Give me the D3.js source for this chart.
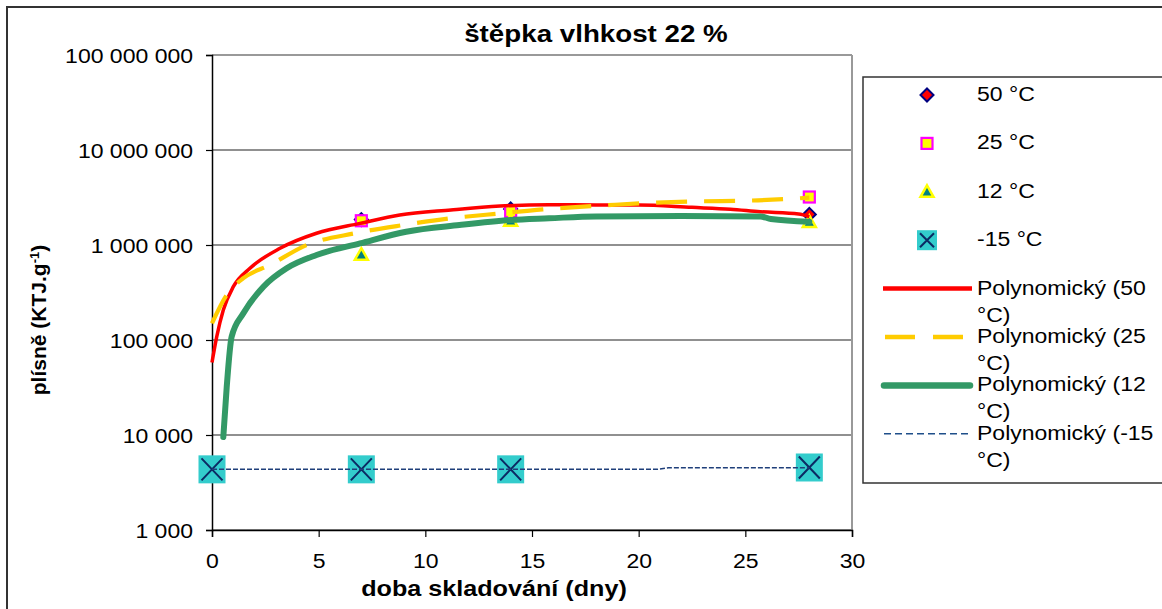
<!DOCTYPE html>
<html><head><meta charset="utf-8">
<script src="https://cdn.jsdelivr.net/npm/d3@7"></script>
<style>
body{margin:0;background:#fff;}
svg{display:block;}
text{font-family:"Liberation Sans",Arial,Helvetica,sans-serif;fill:#000;}
</style>
</head><body>
<svg id="c" width="1162" height="609"></svg>
<script>
// ---------- data ----------
const chartTitle = "štěpka vlhkost 22 %";
const xTitle = "doba skladování (dny)";
const yTitleMain = "plísně (KTJ.g";
const yTitleSup = "-1";
const yTitleEnd = ")";
const xTicks = [0, 5, 10, 15, 20, 25, 30];
const yTicks = [1e3, 1e4, 1e5, 1e6, 1e7, 1e8];

const seriesNames = ["50 °C", "25 °C", "12 °C", "-15 °C"];
const trendNames = ["Polynomický (50 °C)", "Polynomický (25 °C)", "Polynomický (12 °C)", "Polynomický (-15 °C)"];

// measured points
const days50 = [7, 14, 28];
const vals50 = [1850000, 2400000, 2100000];
const days25 = [7, 14, 28];
const vals25 = [1800000, 2250000, 3200000];
const days12 = [7, 14, 28];
const vals12 = [790000, 1800000, 1750000];
const daysM15 = [0, 7, 14, 28];
const valsM15 = [4350, 4350, 4350, 4550];

// polynomial trendlines
const trend50Days = [0, 0.22, 0.53, 1.0, 1.78, 3.19, 4.9, 6.94, 8.8, 11.2, 13.5, 15.8, 18, 20, 22.5, 24.3, 25.7, 27.5, 28];
const trend50Vals = [58000, 108000, 207000, 364000, 569000, 923000, 1330000, 1690000, 2070000, 2340000, 2570000, 2660000, 2640000, 2640000, 2490000, 2380000, 2240000, 2120000, 1990000];
const trend25Days = [0, 0.69, 1.47, 2.72, 4.44, 6.7, 8.95, 11.2, 13.5, 15.5, 18.5, 20.4, 22.8, 25.1, 27.5, 28];
const trend25Vals = [150000, 298000, 447000, 617000, 1000000, 1330000, 1620000, 1910000, 2150000, 2370000, 2620000, 2770000, 2880000, 2930000, 3100000, 3150000];
const trend12Days = [0.53, 0.69, 0.92, 1.47, 2.41, 3.5, 4.9, 6.94, 9.1, 11.6, 14, 15.8, 18, 22, 25.7, 26.2, 28];
const trend12Vals = [9500, 32000, 108000, 191000, 364000, 569000, 785000, 1040000, 1380000, 1620000, 1830000, 1910000, 2000000, 2020000, 2000000, 1880000, 1760000];
const trendM15Days = [0, 20.9, 21.4, 28];
const trendM15Vals = [4350, 4350, 4520, 4520];

// ---------- layout ----------
const SX = 1.18; // horizontal stretch of the reference rendering
const svg = d3.select("#c");
const M = {left: 212, right: 852, top: 55, bottom: 530};
const x = d3.scaleLinear().domain([0, 30]).range([M.left, M.right]);
const y = d3.scaleLog().domain([1e3, 1e8]).range([M.bottom, M.top]);
const fmt = v => d3.format(",")(v).replace(/,/g, " ");

function stretch(sel, k) {
  sel.each(function () {
    const w = this.getComputedTextLength();
    if (w > 0) {
      this.setAttribute("textLength", w * k);
      this.setAttribute("lengthAdjust", "spacingAndGlyphs");
    }
  });
}

// chart area border
svg.append("path").attr("d", "M7,612 L7,7 L1170,7")
  .attr("fill", "none").attr("stroke", "#333").attr("stroke-width", 2);

// title
svg.append("text").attr("x", 596).attr("y", 42).attr("text-anchor", "middle")
  .style("font-size", "23.5px").style("font-weight", "bold").text(chartTitle)
  .call(stretch, SX);

// gridlines
const grid = svg.append("g");
grid.selectAll("line").data(yTicks).join("line")
  .attr("x1", M.left).attr("x2", M.right)
  .attr("y1", d => y(d)).attr("y2", d => y(d))
  .attr("stroke", d => d === 1e8 ? "#999" : "#222")
  .attr("stroke-width", d => d === 1e8 ? 2 : 1.2);
// plot border right
svg.append("line").attr("x1", M.right).attr("x2", M.right).attr("y1", M.top).attr("y2", M.bottom)
  .attr("stroke", "#999").attr("stroke-width", 2);

// axes
const yAxis = svg.append("g").attr("transform", `translate(${M.left},0)`)
  .call(d3.axisLeft(y).tickValues(yTicks).tickFormat(fmt).tickSize(6).tickPadding(13));
const xAxis = svg.append("g").attr("transform", `translate(0,${M.bottom})`)
  .call(d3.axisBottom(x).tickValues(xTicks).tickFormat(d3.format("d")).tickSize(7).tickPadding(17));
[yAxis, xAxis].forEach(g => {
  g.select(".domain").attr("stroke", "#000").attr("stroke-width", 1.5);
  g.selectAll(".tick line").attr("stroke", "#000").attr("stroke-width", 1.2);
  g.selectAll(".tick text").style("font-size", "20px")
    .style("font-family", "'Liberation Sans',Arial,sans-serif").attr("fill", "#000");
});
yAxis.selectAll(".tick text").attr("dy", "0.36em").call(stretch, 1.15);
xAxis.selectAll(".tick text").attr("dy", "0.71em").call(stretch, 1.15);

// axis titles
svg.append("text").attr("x", 494).attr("y", 596).attr("text-anchor", "middle")
  .style("font-size", "21.5px").style("font-weight", "bold").text(xTitle)
  .call(stretch, 1.17);
const yt = svg.append("text").attr("transform", "translate(46,320) rotate(-90)")
  .attr("text-anchor", "middle").style("font-size", "21px").style("font-weight", "bold");
yt.append("tspan").text(yTitleMain);
yt.append("tspan").attr("baseline-shift", "super").style("font-size", "13px").text(yTitleSup);
yt.append("tspan").text(yTitleEnd);

// ---------- marker shapes ----------
const NAVY = "#0b2a63";
function drawDiamond(g, cx, cy) {
  g.append("path").attr("d", `M${cx},${cy - 6.5} L${cx + 6.5},${cy} L${cx},${cy + 6.5} L${cx - 6.5},${cy} Z`)
    .attr("fill", "#ff0000").attr("stroke", "#000080").attr("stroke-width", 2);
}
function drawSquare(g, cx, cy) {
  g.append("rect").attr("x", cx - 5.5).attr("y", cy - 5.5).attr("width", 11).attr("height", 11)
    .attr("fill", "#ffff00").attr("stroke", "#ff00ff").attr("stroke-width", 2.2);
}
function drawTriangle(g, cx, cy) {
  g.append("path").attr("d", `M${cx},${cy - 6.5} L${cx + 6.5},${cy + 5} L${cx - 6.5},${cy + 5} Z`)
    .attr("fill", "#008080").attr("stroke", "#ffff00").attr("stroke-width", 2.5).attr("stroke-linejoin", "miter");
}
function drawX(g, cx, cy, w, h) {
  g.append("rect").attr("x", cx - w / 2).attr("y", cy - h / 2).attr("width", w).attr("height", h)
    .attr("fill", "#33cccc");
  const i = 3;
  g.append("path").attr("d", `M${cx - w / 2 + i},${cy - h / 2 + i} L${cx + w / 2 - i},${cy + h / 2 - i} M${cx + w / 2 - i},${cy - h / 2 + i} L${cx - w / 2 + i},${cy + h / 2 - i}`)
    .attr("stroke", NAVY).attr("stroke-width", 2).attr("fill", "none");
}

// markers
const mk = svg.append("g");
days50.forEach((d, i) => drawDiamond(mk, x(d), y(vals50[i])));
days25.forEach((d, i) => drawSquare(mk, x(d), y(vals25[i])));
days12.forEach((d, i) => drawTriangle(mk, x(d), y(vals12[i])));
daysM15.forEach((d, i) => drawX(mk, x(d), y(valsM15[i]), 27, 28));

// trendlines
const line = d3.line().x(d => x(d[0])).y(d => y(d[1])).curve(d3.curveMonotoneX);
const tl = svg.append("g").attr("fill", "none");
tl.append("path").attr("d", line(d3.zip(trend50Days, trend50Vals)))
  .attr("stroke", "#ff0000").attr("stroke-width", 3.5);
tl.append("path").attr("d", line(d3.zip(trend25Days, trend25Vals)))
  .attr("stroke", "#ffcc00").attr("stroke-width", 4.2).attr("stroke-dasharray", "31,17");
tl.append("path").attr("d", line(d3.zip(trend12Days, trend12Vals)))
  .attr("stroke", "#339966").attr("stroke-width", 6).attr("stroke-linecap", "round");
tl.append("path").attr("d", d3.line().x(d => x(d[0])).y(d => y(d[1]))(d3.zip(trendM15Days, trendM15Vals)))
  .attr("stroke", "#1f3f7a").attr("stroke-width", 1.5).attr("stroke-dasharray", "5,2");

// ---------- legend ----------
const lg = svg.append("g");
lg.append("path").attr("d", "M1170,77 L863,77 L863,483 L1170,483")
  .attr("fill", "#fff").attr("stroke", "#333").attr("stroke-width", 1.5);
const rowY = i => 95 + i * 48.4;
const mx = 927, tx = 977;
drawDiamond(lg, mx, rowY(0));
drawSquare(lg, mx, rowY(1));
drawTriangle(lg, mx, rowY(2));
drawX(lg, mx, rowY(3), 20, 20);
seriesNames.forEach((n, i) => {
  lg.append("text").attr("x", tx).attr("y", rowY(i) + 6).style("font-size", "20px").text(n).call(stretch, 1.15);
});
const legLines = [
  {stroke: "#ff0000", w: 4.5, dash: null, x1: 883, x2: 972, cap: "butt"},
  {stroke: "#ffcc00", w: 4.5, dash: "30,18", x1: 885, x2: 970, cap: "butt"},
  {stroke: "#339966", w: 6.5, dash: null, x1: 884, x2: 970, cap: "round"},
  {stroke: "#1f4f8a", w: 1.5, dash: "7,4", x1: 884, x2: 972, cap: "butt"}
];
trendNames.forEach((n, i) => {
  const yy = rowY(4 + i);
  const L = legLines[i];
  const ln = lg.append("line").attr("x1", L.x1).attr("x2", L.x2).attr("y1", yy).attr("y2", yy)
    .attr("stroke", L.stroke).attr("stroke-width", L.w).attr("stroke-linecap", L.cap);
  if (L.dash) ln.attr("stroke-dasharray", L.dash);
  const parts = n.split(" °C)");
  lg.append("text").attr("x", tx).attr("y", yy + 6).style("font-size", "20px").text(parts[0]).call(stretch, 1.15);
  lg.append("text").attr("x", tx).attr("y", yy + 33).style("font-size", "20px").text("°C)").call(stretch, 1.15);
});
</script>
</body></html>
